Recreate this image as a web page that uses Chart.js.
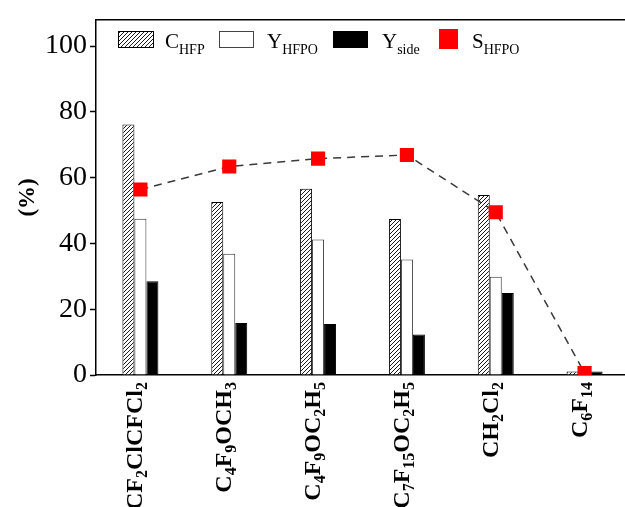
<!DOCTYPE html>
<html>
<head>
<meta charset="utf-8">
<script src="https://cdn.jsdelivr.net/npm/chart.js@4"></script>
<style>
  html, body { margin: 0; padding: 0; background: #fff; overflow: hidden; }
  #wrap { width: 625px; height: 507px; overflow: hidden; }
  #chart { width: 640px; height: 507px; display: block; }
</style>
</head>
<body>
<div id="wrap"><canvas id="chart" width="640" height="507"></canvas></div>
<script>
// solvents on the x axis (digits are drawn as subscripts)
const categories = ['CF2ClCFCl2', 'C4F9OCH3', 'C4F9OC2H5', 'C7F15OC2H5', 'CH2Cl2', 'C6F14'];
// series, in %
const cHFP  = [76.2, 52.6, 56.6, 47.4, 54.7, 1.1];
const yHFPO = [47.5, 36.9, 41.2, 35.1, 29.9, 0.6];
const ySide = [28.5, 15.8, 15.5, 12.3, 24.9, 1.1];
const sHFPO = [56.4, 63.4, 65.8, 66.9, 49.5, 0.6];
// legend names: main letter + subscript
const seriesNames = [['C', 'HFP'], ['Y', 'HFPO'], ['Y', 'side'], ['S', 'HFPO']];
const yLabelEvery = 20;

const SERIF = "'Liberation Serif', 'Times New Roman', serif";

// hatch pattern for C_HFP
function makeHatch() {
    const s = 4;
    const c = document.createElement('canvas');
    c.width = s; c.height = s;
    const g = c.getContext('2d');
    g.fillStyle = '#fff';
    g.fillRect(0, 0, s, s);
    g.strokeStyle = '#000';
    g.lineWidth = 0.9;
    g.beginPath();
    g.moveTo(0, s); g.lineTo(s, 0);
    g.moveTo(-1, 1); g.lineTo(1, -1);
    g.moveTo(s - 1, s + 1); g.lineTo(s + 1, s - 1);
    g.stroke();
    return g.createPattern(c, 'repeat');
}
const hatch = makeHatch();

// split a formula into runs, digits -> subscript
function formulaRuns(txt) {
    const runs = [];
    const re = /(\d+|\D+)/g;
    let m;
    while ((m = re.exec(txt))) runs.push({ t: m[1], sub: /\d/.test(m[1]) });
    return runs;
}

function drawRuns(ctx, runs, x, y, mainFont, subFont, subShift) {
    let cx = x;
    runs.forEach(r => {
        ctx.font = r.sub ? subFont : mainFont;
        ctx.fillText(r.t, cx, y + (r.sub ? subShift : 0));
        cx += ctx.measureText(r.t).width;
    });
    return cx;
}

function runsWidth(ctx, runs, mainFont, subFont) {
    let w = 0;
    runs.forEach(r => {
        ctx.font = r.sub ? subFont : mainFont;
        w += ctx.measureText(r.t).width;
    });
    return w;
}

const customDraw = {
    id: 'customDraw',
    afterDraw(chart) {
        const ctx = chart.ctx;
        const area = chart.chartArea;
        const xs = chart.scales.x;

        // top frame line (the right side of the box falls just outside the picture)
        ctx.save();
        ctx.strokeStyle = '#000';
        ctx.lineWidth = 1.5;
        ctx.beginPath();
        ctx.moveTo(area.left, area.top);
        ctx.lineTo(area.right, area.top);
        ctx.lineTo(area.right, area.bottom);
        ctx.stroke();
        ctx.restore();

        // rotated category labels with subscripts
        const mainFont = 'bold 24px ' + SERIF;
        const subFont = 'bold 16px ' + SERIF;
        ctx.save();
        ctx.fillStyle = '#000';
        ctx.textBaseline = 'alphabetic';
        categories.forEach((c, i) => {
            const runs = formulaRuns(c);
            const w = runsWidth(ctx, runs, mainFont, subFont);
            const px = xs.getPixelForValue(i);
            ctx.save();
            ctx.translate(px + 2, area.bottom + 7);
            ctx.rotate(-Math.PI / 2);
            drawRuns(ctx, runs, -w, 0, mainFont, subFont, 5);
            ctx.restore();
        });
        ctx.restore();

        // legend
        const lMain = '21px ' + SERIF;
        const lSub = '14px ' + SERIF;
        const boxes = [
            { x: 118, w: 36, fill: hatch, stroke: '#000', tx: 165 },
            { x: 219, w: 35, fill: '#fff', stroke: '#444', tx: 267 },
            { x: 333, w: 35, fill: '#000', stroke: '#000', tx: 382 },
            { x: 439, w: 19, fill: '#ff0000', stroke: null, tx: 472, sq: true }
        ];
        ctx.save();
        boxes.forEach((b, i) => {
            if (b.sq) {
                ctx.fillStyle = b.fill;
                ctx.fillRect(b.x, 29, b.w, 20);
            } else {
                ctx.fillStyle = b.fill;
                ctx.fillRect(b.x, 31, b.w, 17);
                ctx.strokeStyle = b.stroke;
                ctx.lineWidth = 1;
                ctx.strokeRect(b.x + 0.5, 31.5, b.w - 1, 16);
            }
            ctx.fillStyle = '#000';
            ctx.font = lMain;
            ctx.fillText(seriesNames[i][0], b.tx, 48);
            const mw = ctx.measureText(seriesNames[i][0]).width;
            ctx.font = lSub;
            ctx.fillText(seriesNames[i][1], b.tx + mw, 54);
        });
        ctx.restore();
    }
};

new Chart(document.getElementById('chart'), {
    data: {
        labels: categories,
        datasets: [
            {
                type: 'line',
                label: 'S_HFPO',
                data: sHFPO,
                order: 0,
                borderColor: '#3a3a3a',
                borderWidth: 1.5,
                borderDash: [8, 6],
                pointStyle: 'rect',
                pointRadius: 10,
                pointBackgroundColor: '#ff0000',
                pointBorderWidth: 0,
                tension: 0
            },
            {
                type: 'bar',
                label: 'C_HFP',
                data: cHFP,
                order: 1,
                backgroundColor: hatch,
                borderColor: '#000',
                borderWidth: 1
            },
            {
                type: 'bar',
                label: 'Y_HFPO',
                data: yHFPO,
                order: 1,
                backgroundColor: '#fff',
                borderColor: '#333',
                borderWidth: 1
            },
            {
                type: 'bar',
                label: 'Y_side',
                data: ySide,
                order: 1,
                backgroundColor: '#000',
                borderColor: '#000',
                borderWidth: 1
            }
        ]
    },
    options: {
        responsive: false,
        animation: false,
        events: [],
        layout: { autoPadding: false, padding: { top: 15, right: 11, left: 0, bottom: 0 } },
        datasets: { bar: { barPercentage: 1, categoryPercentage: 0.405 } },
        plugins: { legend: { display: false }, tooltip: { enabled: false } },
        scales: {
            x: {
                type: 'category',
                offset: true,
                grid: { display: false },
                border: { display: true, color: '#000', width: 1.5 },
                ticks: { display: false },
                afterFit(scale) { scale.height = 132; }
            },
            y: {
                min: 0,
                max: 108,
                grid: { drawOnChartArea: false, drawTicks: true, tickLength: 6, color: '#000', tickWidth: 1.5 },
                border: { display: true, color: '#000', width: 1.5 },
                ticks: {
                    stepSize: 10,
                    includeBounds: false,
                    padding: 3,
                    color: '#000',
                    font: { family: SERIF, size: 28 },
                    callback: v => (v % yLabelEvery === 0 ? v : '')
                },
                title: {
                    display: true,
                    text: '(%)',
                    color: '#000',
                    font: { family: SERIF, size: 23, weight: 'bold' },
                    padding: { top: 14, bottom: 0 }
                },
                afterFit(scale) { scale.width = 96; }
            }
        }
    },
    plugins: [customDraw]
});
</script>
</body>
</html>
